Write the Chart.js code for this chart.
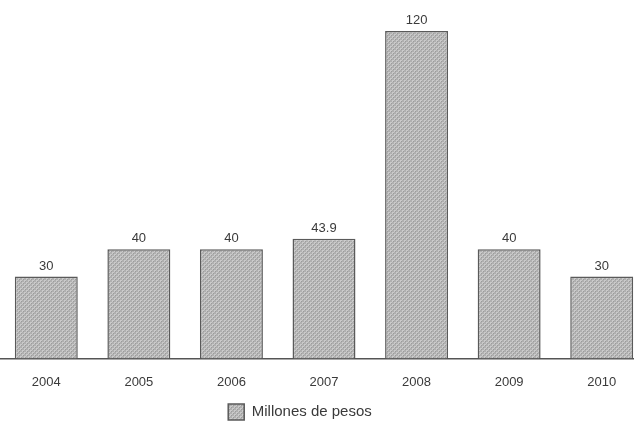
<!DOCTYPE html>
<html lang="es">
<head>
<meta charset="UTF-8">
<title>Millones de pesos</title>
<style>
  html, body { margin: 0; padding: 0; background: #fff; overflow: hidden; }
  #wrap { width: 648px; height: 430px; }
</style>
</head>
<body>
<div id="wrap">
    <canvas id="myChart" width="648" height="430"></canvas>
</div>

<script src="https://cdn.jsdelivr.net/npm/chart.js"></script>

<script>
    // datos
    const years = ['2004', '2005', '2006', '2007', '2008', '2009', '2010'];
    const amounts = [30, 40, 40, 43.9, 120, 40, 30];
    const valueLabels = ['30', '40', '40', '43.9', '120', '40', '30'];
    const seriesName = 'Millones de pesos';

    const FONT = '"Liberation Sans", Arial, sans-serif';

    // trama gris de puntos para las barras
    function makePattern() {
        const c = document.createElement('canvas');
        c.width = 4;
        c.height = 4;
        const g = c.getContext('2d');
        g.fillStyle = '#b0b0b0';
        g.fillRect(0, 0, 4, 4);
        g.fillStyle = '#cacaca';
        g.fillRect(0, 0, 2, 2);
        g.fillRect(2, 2, 2, 2);
        g.fillStyle = '#9c9c9c';
        g.fillRect(1, 1, 1, 1);
        g.fillRect(3, 3, 1, 1);
        return g.createPattern(c, 'repeat');
    }
    const hatch = makePattern();

    // valores encima de cada barra
    const barValues = {
        id: 'barValues',
        afterDatasetsDraw(chart) {
            const ctx = chart.ctx;
            const meta = chart.getDatasetMeta(0);
            ctx.save();
            ctx.font = '13px ' + FONT;
            ctx.fillStyle = '#3a3a3a';
            ctx.textAlign = 'center';
            ctx.textBaseline = 'bottom';
            meta.data.forEach((bar, i) => {
                ctx.fillText(valueLabels[i], bar.x, bar.y - 4);
            });
            ctx.restore();
        }
    };

    // leyenda algo corrida a la izquierda
    const legendShift = {
        id: 'legendShift',
        afterLayout(chart) {
            if (chart.legend) {
                chart.legend.left = 0;
                chart.legend.right = 600;
            }
        }
    };

    const ctx = document.getElementById('myChart');

    new Chart(ctx, {
        type: 'bar',
        data: {
            labels: years,
            datasets: [
                {
                    label: seriesName,
                    data: amounts,
                    backgroundColor: hatch,
                    borderColor: '#5a5a5a',
                    borderWidth: 1.5,
                    categoryPercentage: 1,
                    barPercentage: 0.68
                }
            ]
        },
        plugins: [barValues, legendShift],
        options: {
            responsive: false,
            animation: false,
            layout: {
                padding: { top: 31, left: 0, right: 0, bottom: 0 }
            },
            scales: {
                x: {
                    grid: { display: false },
                    border: { color: '#555', width: 1.5, dash: [2, 1] },
                    ticks: {
                        color: '#3a3a3a',
                        padding: 8,
                        font: { family: FONT, size: 13 }
                    }
                },
                y: {
                    display: false,
                    min: 0,
                    max: 120
                }
            },
            plugins: {
                tooltip: { enabled: false },
                legend: {
                    position: 'bottom',
                    labels: {
                        color: '#3a3a3a',
                        boxWidth: 16,
                        boxHeight: 16,
                        padding: 6,
                        font: { family: FONT, size: 15 }
                    }
                }
            }
        }
    });
</script>
</body>
</html>
